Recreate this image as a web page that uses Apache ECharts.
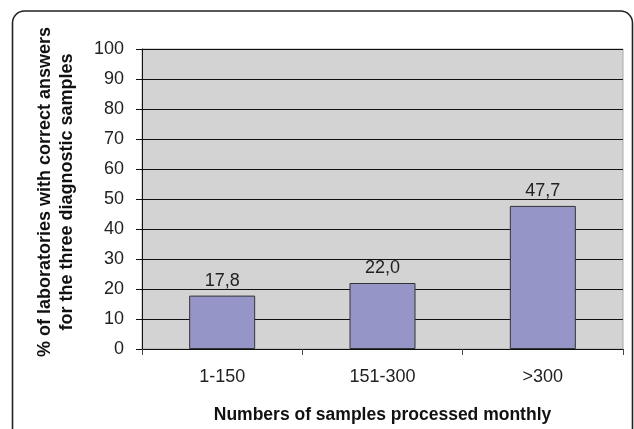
<!DOCTYPE html>
<html><head><meta charset="utf-8">
<script src="https://cdn.jsdelivr.net/npm/echarts@6/dist/echarts.min.js"></script>
<style>html,body{margin:0;padding:0;background:#fff}#c{width:634px;height:429px}</style>
</head><body><div id="c"></div>
<script>
const categories = ['1-150', '151-300', '>300'];
const values = [17.8, 22.0, 47.7];
const valueLabels = ['17,8', '22,0', '47,7'];
const yTicks = {min: 0, max: 100, interval: 10};

const chart = echarts.init(document.getElementById('c'));
chart.setOption({
  animation: false,
  backgroundColor: '#fff',
  graphic: [{
    type: 'rect', shape: {x: 12.5, y: 11, width: 620, height: 460, r: 12},
    style: {fill: 'none', stroke: '#222', lineWidth: 1.6}, z: 100, silent: true
  }],
  grid: {left: 142, right: 11, top: 49, bottom: 77, show: true, backgroundColor: '#D3D3D3', borderColor: '#aaa', borderWidth: 1},
  xAxis: {
    type: 'category', data: categories,
    name: 'Numbers of samples processed monthly', nameLocation: 'middle', nameGap: 57,
    nameTextStyle: {fontFamily: 'Liberation Sans', fontWeight: 'bold', fontSize: 17.5, color: '#111'},
    axisLine: {lineStyle: {color: '#111', width: 1}},
    axisTick: {show: true, length: 6, lineStyle: {color: '#444'}},
    axisLabel: {fontFamily: 'Liberation Sans', fontSize: 18, color: '#222', margin: 19}
  },
  yAxis: {
    type: 'value', min: yTicks.min, max: yTicks.max, interval: yTicks.interval,
    name: '% of laboratories with correct answers\nfor the three diagnostic samples',
    nameLocation: 'middle', nameGap: 64,
    nameTextStyle: {fontFamily: 'Liberation Sans', fontWeight: 'bold', fontSize: 18, color: '#111', lineHeight: 22, padding: [0, 0, 0, 14]},
    axisLine: {show: true, lineStyle: {color: '#111', width: 1}},
    axisTick: {show: true, length: 6, lineStyle: {color: '#111'}},
    axisLabel: {fontFamily: 'Liberation Sans', fontSize: 18, color: '#222', margin: 18},
    splitLine: {show: true, lineStyle: {color: '#111', width: 1}}
  },
  series: [{
    type: 'bar', data: values, barWidth: 66,
    itemStyle: {color: '#9595C8', borderColor: '#333', borderWidth: 1},
    label: {show: true, position: 'top', distance: 6, fontFamily: 'Liberation Sans', fontSize: 18, color: '#222',
      formatter: p => valueLabels[p.dataIndex]}
  }]
});
</script></body></html>
